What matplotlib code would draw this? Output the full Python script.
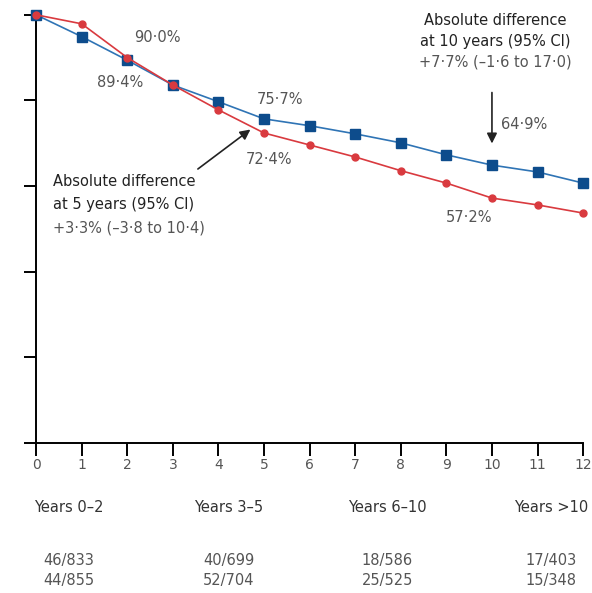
import matplotlib.pyplot as plt
from matplotlib.transforms import blended_transform_factory

plt.rcParams['font.family'] = ['DejaVu Sans']

# Survival (%) by year of follow-up
years = list(range(0, 13))
blue_surv = [100, 94.9, 89.4, 83.6, 79.7, 75.7, 74.1, 72.2, 70.1, 67.3, 64.9, 63.3, 60.7]
red_surv = [100, 97.9, 90.0, 83.6, 77.8, 72.4, 69.6, 66.8, 63.6, 60.7, 57.2, 55.6, 53.7]

# Events per period
periods = ["Years 0–2", "Years 3–5", "Years 6–10", "Years >10"]
period_x = [0.72, 4.23, 7.7, 11.3]
blue_events = ["46/833", "40/699", "18/586", "17/403"]
red_events = ["44/855", "52/704", "25/525", "15/348"]

blue_line = "#2f74b5"
blue_mark = "#0d4c8c"
red = "#d93a3f"
grey = "#555555"
dark = "#222222"

fig = plt.figure(figsize=(5.92, 5.93), dpi=100)
ax = fig.add_axes([0.061, 0.253, 0.924, 0.722])

ax.plot(years, blue_surv, color=blue_line, lw=1.2, marker="s", ms=7,
        mfc=blue_mark, mec=blue_mark, clip_on=False, zorder=3)
ax.plot(years, red_surv, color=red, lw=1.2, marker="o", ms=5,
        mfc=red, mec=red, clip_on=False, zorder=4)

ax.set_xlim(0, 12)
ax.set_ylim(0, 100)
ax.set_xticks(years)
ax.set_yticks([0, 20, 40, 60, 80, 100])
ax.set_yticklabels([])
ax.spines["top"].set_visible(False)
ax.spines["right"].set_visible(False)
for s in ("left", "bottom"):
    ax.spines[s].set_linewidth(1.4)
ax.tick_params(axis="both", direction="out", length=9, width=1.4)
ax.tick_params(axis="x", labelsize=10, labelcolor=grey, pad=2)

# Value labels
lab = dict(fontsize=10.5, color=grey, ha="center", va="center")
ax.text(2.67, 94.8, "90·0%", **lab)
ax.text(1.84, 84.3, "89·4%", **lab)
ax.text(5.35, 80.2, "75·7%", **lab)
ax.text(5.1, 66.1, "72·4%", **lab)
ax.text(10.7, 74.3, "64·9%", **lab)
ax.text(9.5, 52.6, "57·2%", **lab)

# Absolute difference at 5 years
ax.annotate("", xy=(4.75, 73.6), xytext=(3.5, 63.6),
            arrowprops=dict(arrowstyle="-|>", color=dark, lw=1.2,
                            mutation_scale=15))
ax.text(0.37, 61.0, "Absolute difference", fontsize=10.5, color=dark,
        ha="left", va="center")
ax.text(0.37, 55.6, "at 5 years (95% CI)", fontsize=10.5, color=dark,
        ha="left", va="center")
ax.text(0.37, 50.2, "+3·3% (–3·8 to 10·4)", fontsize=10.5, color=grey,
        ha="left", va="center")

# Absolute difference at 10 years
ax.annotate("", xy=(10, 69.3), xytext=(10, 82.5),
            arrowprops=dict(arrowstyle="-|>", color=dark, lw=1.2,
                            mutation_scale=15))
ax.text(10.07, 98.6, "Absolute difference", fontsize=10.5, color=dark,
        ha="center", va="center")
ax.text(10.07, 93.7, "at 10 years (95% CI)", fontsize=10.5, color=dark,
        ha="center", va="center")
ax.text(10.07, 88.9, "+7·7% (–1·6 to 17·0)", fontsize=10.5, color=grey,
        ha="center", va="center")

# Events table under the axis
tr = blended_transform_factory(ax.transData, fig.transFigure)
for x, p, b, r in zip(period_x, periods, blue_events, red_events):
    ax.text(x, 1 - 508 / 593, p, transform=tr, fontsize=10.5, color="#333333",
            ha="center", va="center")
    ax.text(x, 1 - 560 / 593, b, transform=tr, fontsize=10.5, color=grey,
            ha="center", va="center")
    ax.text(x, 1 - 581 / 593, r, transform=tr, fontsize=10.5, color=grey,
            ha="center", va="center")

fig.savefig("out.png", dpi=100)
